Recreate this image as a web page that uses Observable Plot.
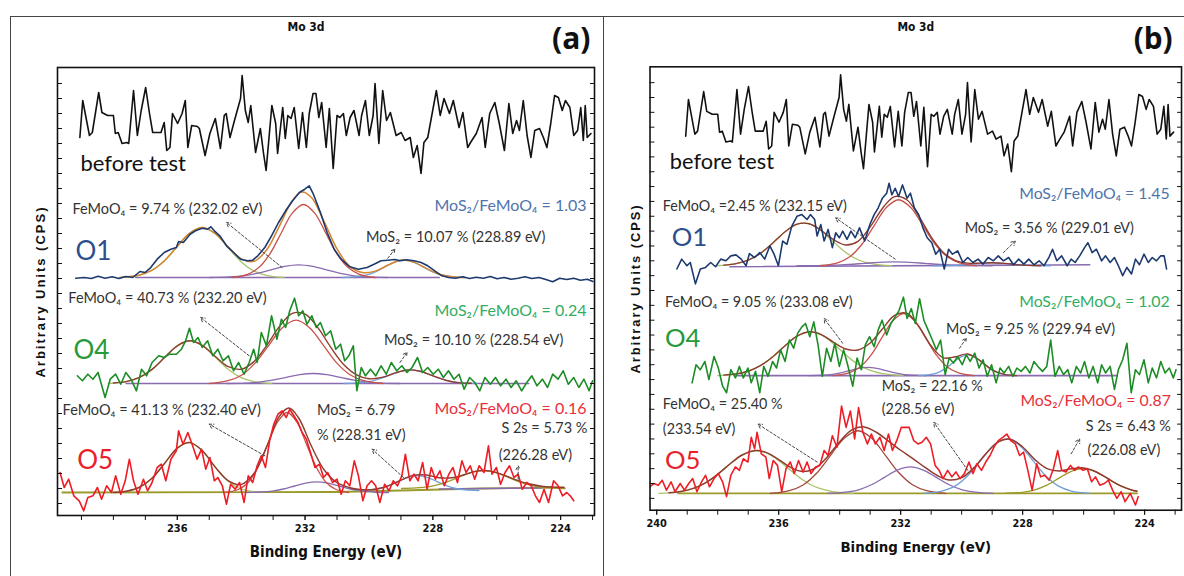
<!DOCTYPE html>
<html><head><meta charset="utf-8">
<script src="https://cdn.jsdelivr.net/npm/d3@7"></script>
<script src="https://cdn.jsdelivr.net/npm/@observablehq/plot@0.6"></script>
<style>
html,body{margin:0;padding:0;background:#fff;width:1184px;height:576px;overflow:hidden;}
#wrap{position:relative;width:1184px;height:576px;overflow:hidden;}
.box{position:absolute;top:16px;height:700px;border:1px solid #444;}
.svgholder{position:absolute;top:0;}
</style></head>
<body><div id="wrap">
<div class="box" style="left:10px;width:592px;"></div>
<div class="box" style="left:603px;width:700px;"></div>
<div class="svgholder" id="pa" style="left:0px;"></div>
<div class="svgholder" id="pb" style="left:603px;"></div>
</div>
<script>
// ---------------- tick values ----------------
const xTickLabels = [240, 236, 232, 228, 224];
const xMinorTicks = [240,239,238,237,236,235,234,233,232,231,230,229,228,227,226,225,224,223];
const yTicks = [12,27,42,57,72,87,102,117,132,147,162,177,192,207,222,237,252,267,282,297,312,327,342,357,372,387,402,417,432];

// ---------------- stacking offsets (arbitrary units) ----------------
const offsetsA = {before: 350, O1: 238, O4: 132, O5: 23};
const offsetsB = {before: 350, O1: 247, O4: 136, O5: 17};

// ---------------- "before test" spectrum (same in both panels) ----------------
const beforeTest = [[239.05,28],[238.96,65],[238.75,30],[238.66,33],[238.46,73],[238.36,53],[238.18,50],[238.0,50],[237.94,32],[237.85,33],[237.73,22],[237.58,23],[237.52,22],[237.37,75],[237.25,30],[237.13,55],[236.99,78],[236.87,52],[236.77,33],[236.51,33],[236.41,43],[236.33,15],[236.23,18],[236.15,52],[235.99,42],[235.85,52],[235.75,65],[235.67,18],[235.55,40],[235.37,39],[235.31,37],[235.13,10],[234.98,32],[234.81,47],[234.65,17],[234.53,50],[234.47,52],[234.35,28],[234.21,45],[234.02,67],[233.97,90],[233.87,55],[233.78,43],[233.7,60],[233.55,13],[233.4,37],[233.3,12],[233.22,-5],[233.04,60],[232.92,42],[232.86,12],[232.7,58],[232.62,27],[232.54,50],[232.44,47],[232.34,58],[232.2,17],[232.08,53],[231.96,18],[231.87,52],[231.75,72],[231.66,72],[231.57,48],[231.48,63],[231.34,18],[231.24,57],[231.12,-3],[231.0,50],[230.91,48],[230.8,52],[230.71,30],[230.59,48],[230.47,55],[230.31,30],[230.23,50],[230.11,65],[229.99,30],[229.87,50],[229.81,82],[229.69,22],[229.57,75],[229.45,45],[229.33,53],[229.15,30],[228.99,33],[228.87,25],[228.71,28],[228.61,8],[228.49,20],[228.37,-8],[228.28,23],[228.16,28],[227.89,75],[227.77,50],[227.65,67],[227.48,52],[227.36,65],[227.18,38],[227.06,53],[226.91,18],[226.82,23],[226.64,32],[226.46,48],[226.36,18],[226.22,52],[226.06,63],[225.92,42],[225.76,15],[225.62,62],[225.5,32],[225.38,45],[225.29,35],[225.17,65],[225.05,30],[224.93,8],[224.81,35],[224.66,37],[224.54,28],[224.43,18],[224.31,42],[224.19,70],[224.07,68],[223.95,55],[223.85,65],[223.71,58],[223.59,30],[223.47,35],[223.37,58],[223.29,25],[223.23,60],[223.17,28],[223.05,32]];

// ---------------- panel (a) measured spectra ----------------
const aO1 = [[239.18,-0.7],[238.91,0],[238.69,-1],[238.48,1.3],[238.26,-0.7],[238.04,0.7],[237.83,-1],[237.61,1],[237.39,0],[237.17,6],[237.01,5],[236.85,9.3],[236.63,18.3],[236.41,25],[236.2,28.3],[236.03,30],[235.96,36],[235.81,35],[235.6,43.3],[235.43,46.7],[235.22,49.3],[235.05,48.3],[234.95,50.7],[234.84,46.7],[234.67,41.7],[234.46,31.7],[234.24,25],[234.02,18.3],[233.8,16.7],[233.64,17.3],[233.48,21.7],[233.26,30],[233.05,41.7],[232.83,55],[232.61,66.7],[232.39,76.7],[232.18,85],[232.01,88.3],[231.87,91.7],[231.74,83.3],[231.52,65],[231.31,45],[231.09,28.3],[230.87,18.3],[230.6,10.7],[230.33,8.3],[230.06,10],[229.84,13.3],[229.62,16.7],[229.41,17.3],[229.19,18],[229.03,16.7],[228.81,17.7],[228.59,16.7],[228.37,15],[228.16,11.7],[227.94,6.7],[227.72,1.7],[227.51,0],[227.29,-0.7],[227.07,0.7],[226.85,-1],[226.64,0.3],[226.42,-0.7],[226.2,1],[225.99,-1.3],[225.77,0],[225.55,-1.7],[225.33,-0.7],[225.12,0.7],[224.9,-1],[224.68,0],[224.46,-2],[224.25,-4.3],[224.03,-0.7],[223.81,-2],[223.59,-0.7],[223.38,-2.7],[223.16,-1.7],[222.99,-4]];
const aO4 = [[239.13,7.7],[238.97,2.7],[238.8,9.3],[238.64,4.3],[238.48,11],[238.26,-14],[238.1,4.3],[237.93,9.3],[237.77,-0.7],[237.61,11],[237.45,4.3],[237.28,-7.3],[237.12,14.3],[236.96,7.7],[236.79,21],[236.58,27.7],[236.41,26],[236.25,29.3],[236.03,29.3],[235.87,34.3],[235.74,42.7],[235.62,55.3],[235.49,41],[235.35,46],[235.22,36],[235.05,42.7],[234.89,27.7],[234.73,34.3],[234.57,22.7],[234.4,27.7],[234.24,12.7],[234.08,21],[233.91,9.3],[233.75,21],[233.61,34.3],[233.5,21],[233.37,51],[233.21,37.7],[233.05,67.7],[232.88,44.3],[232.74,64.3],[232.61,56],[232.48,72.7],[232.33,85.3],[232.2,67.7],[232.07,72.7],[231.94,59.3],[231.79,67.7],[231.65,56],[231.52,61],[231.36,47.7],[231.2,52.7],[231.04,34.3],[230.89,39.3],[230.76,22.7],[230.63,27.7],[230.49,37.7],[230.38,-7.3],[230.24,16],[230.11,7.7],[229.95,14.3],[229.79,7.7],[229.62,17.7],[229.46,9.3],[229.3,21],[229.13,12.7],[228.97,17.7],[228.81,11],[228.65,16],[228.48,26],[228.32,11],[228.16,16],[227.99,9.3],[227.83,14.3],[227.67,6],[227.51,12.7],[227.34,4.3],[227.18,9.3],[227.02,-5.7],[226.85,6],[226.69,1],[226.53,-7.3],[226.37,6],[226.2,-0.7],[226.04,6],[225.88,-2.3],[225.71,4.3],[225.55,-4],[225.39,2.7],[225.22,-7.3],[225.06,1],[224.9,7.7],[224.74,-2.3],[224.57,4.3],[224.41,-4],[224.25,9.3],[224.08,4.3],[223.92,12.7],[223.76,-0.7],[223.59,6],[223.43,-4],[223.27,4.3],[223.11,-7.3],[223.0,2.7]];
const aO5 = [[239.67,20],[239.54,5],[239.4,13.3],[239.24,-3.3],[239.07,-8.3],[238.93,-18.3],[238.8,-5],[238.64,-3.3],[238.5,5],[238.37,-6.7],[238.21,6.7],[238.06,0],[237.93,16.7],[237.77,-1.7],[237.63,11.7],[237.5,33.3],[237.37,11.7],[237.23,-1.7],[237.06,13.3],[236.93,1.7],[236.79,10],[236.63,25],[236.5,28.3],[236.36,11.7],[236.2,33.3],[236.03,41.7],[235.96,61.7],[235.82,48.3],[235.67,60],[235.52,46.7],[235.38,33.3],[235.24,43.3],[235.11,23.3],[234.98,35],[234.84,11.7],[234.73,15],[234.59,6.7],[234.46,-11.7],[234.33,8.3],[234.19,3.3],[234.05,10],[233.91,-10],[233.78,16.7],[233.64,10],[233.5,26.7],[233.37,36.7],[233.24,25],[233.11,51.7],[232.98,68.3],[232.85,78.3],[232.72,81.7],[232.59,75],[232.48,83.3],[232.35,76.7],[232.22,70],[232.09,60],[231.96,53.3],[231.83,40],[231.69,25],[231.55,28.3],[231.42,15],[231.29,20],[231.14,10],[231.0,13.3],[230.87,-1.7],[230.74,11.7],[230.6,6.7],[230.46,31.7],[230.33,16.7],[230.19,-8.3],[230.06,6.7],[229.92,11.7],[229.79,6.7],[229.66,-10],[229.51,8.3],[229.37,1.7],[229.24,11.7],[229.11,6.7],[228.97,16.7],[228.86,38.3],[228.72,11.7],[228.59,18.3],[228.46,11.7],[228.32,30],[228.18,3.3],[228.05,25],[227.92,13.3],[227.78,21.7],[227.64,6.7],[227.5,18.3],[227.37,25],[227.23,10],[227.09,31.7],[226.96,20],[226.83,26.7],[226.69,13.3],[226.55,26.7],[226.4,20],[226.26,46.7],[226.15,18.3],[226.01,25],[225.88,8.3],[225.74,20],[225.6,26.7],[225.46,15],[225.33,18.3],[225.2,3.3],[225.06,10],[224.92,6.7],[224.79,-3.3],[224.66,-10],[224.52,3.3],[224.38,-10],[224.22,11.7],[224.08,6.7],[223.94,-3.3],[223.81,0],[223.7,-3.3],[223.59,-8.3]];

// ---------------- panel (a) fitted components ----------------
const aO1_green = [[237.78,0],[237.22,2.2],[236.82,6.8],[236.42,16.3],[236.02,30.4],[235.62,44.1],[235.22,50],[234.82,44.1],[234.42,30.4],[234.02,16.3],[233.62,6.8],[233.22,2.2],[232.66,0]];
const aO1_red = [[234.29,0],[233.8,3.2],[233.45,9.9],[233.1,23.7],[232.75,44.3],[232.4,64.4],[232.05,73],[231.7,64.4],[231.35,44.3],[231.0,23.7],[230.65,9.9],[230.3,3.2],[229.81,0]];
const aO1_purple = [[234.98,0],[234.38,0.6],[233.94,1.7],[233.51,4.1],[233.07,7.7],[232.64,11.2],[232.2,12.7],[231.77,11.2],[231.33,7.7],[230.9,4.1],[230.46,1.7],[230.03,0.6],[229.42,0]];
const aO1_blue = [[230.82,0],[230.4,0.8],[230.1,2.4],[229.8,5.7],[229.5,10.6],[229.2,15.4],[228.9,17.5],[228.6,15.4],[228.3,10.6],[228.0,5.7],[227.7,2.4],[227.4,0.8],[226.98,0]];
const aO1_env = [[237.8,0],[237.6,0.6],[237.2,2.3],[236.8,7.1],[236.4,16.8],[236.0,31.1],[235.6,44.6],[235.2,50],[234.8,43.7],[234.4,30.4],[234.0,18.6],[233.6,16.2],[233.2,27.7],[232.8,51.7],[232.4,76.8],[232.1,85.4],[231.8,79.9],[231.4,55.7],[231.0,28.6],[230.6,11.1],[230.2,4.9],[229.8,6.4],[229.4,12.5],[229.0,17.3],[228.6,15.4],[228.2,8.9],[227.8,3.3],[227.4,0.8],[227.0,0]];
const aO1_base = [[237.3,0],[227.8,0]];

const aO4_green = [[238.16,0],[237.6,1.9],[237.2,5.8],[236.8,13.9],[236.4,25.9],[236.0,37.7],[235.6,42.7],[235.2,37.7],[234.8,25.9],[234.4,13.9],[234.0,5.8],[233.6,1.9],[233.04,0]];
const aO4_red = [[235.0,0],[234.41,2.8],[233.98,8.5],[233.56,20.6],[233.13,38.4],[232.71,55.8],[232.28,63.3],[231.86,55.8],[231.43,38.4],[231.01,20.6],[230.58,8.5],[230.16,2.8],[229.56,0]];
const aO4_purple = [[234.46,0],[233.87,0.4],[233.44,1.4],[233.02,3.3],[232.59,6.1],[232.17,8.8],[231.74,10],[231.32,8.8],[230.89,6.1],[230.47,3.3],[230.04,1.4],[229.62,0.4],[229.02,0]];
const aO4_blue = [[230.78,0],[230.33,0.6],[230.0,1.8],[229.68,4.5],[229.35,8.3],[229.03,12.1],[228.7,13.7],[228.38,12.1],[228.05,8.3],[227.73,4.5],[227.4,1.8],[227.08,0.6],[226.62,0]];
const aO4_env = [[238.0,0.5],[237.6,1.9],[237.2,5.8],[236.8,13.9],[236.4,25.9],[236.0,37.7],[235.6,42.7],[235.2,37.7],[234.8,26.7],[234.4,16.8],[234.0,14.3],[233.6,21.9],[233.2,38.1],[232.8,57.1],[232.4,70.1],[232.0,69.4],[231.6,55.9],[231.2,36.4],[230.8,19.3],[230.4,8.9],[230.0,4.7],[229.6,6.1],[229.2,10.3],[228.8,13.5],[228.4,12.3],[228.0,7.7],[227.6,3.3],[227.2,0.9],[226.8,0.2]];
const aO4_base = [[237.6,0],[225.0,0]];

const aO5_green = [[237.95,0],[237.45,2.2],[237.09,6.8],[236.73,16.3],[236.37,30.4],[236.01,44.1],[235.65,50],[235.29,44.1],[234.93,30.4],[234.57,16.3],[234.21,6.8],[233.85,2.2],[233.35,0]];
const aO5_red = [[234.48,0],[234.06,3.5],[233.76,10.8],[233.46,26],[233.16,48.6],[232.86,70.6],[232.56,80],[232.26,70.6],[231.96,48.6],[231.66,26],[231.36,10.8],[231.06,3.5],[230.64,0]];
const aO5_purple = [[233.87,0],[233.38,0.5],[233.03,1.4],[232.68,3.5],[232.33,6.5],[231.98,9.4],[231.63,10.7],[231.28,9.4],[230.93,6.5],[230.58,3.5],[230.23,1.4],[229.88,0.5],[229.39,0]];
const aO5_blue = [[230.4,2],[229.98,2.7],[229.68,4],[229.38,6.9],[229.08,11.1],[228.78,15.2],[228.48,17],[228.18,15.2],[227.88,11.1],[227.58,6.9],[227.28,4],[226.98,2.7],[226.56,2]];
const aO5_s2s = [[228.98,4],[228.42,4.8],[228.02,6.4],[227.62,9.9],[227.22,14.9],[226.82,19.9],[226.42,22],[226.02,19.9],[225.62,14.9],[225.22,9.9],[224.82,6.4],[224.42,4.8],[223.86,4]];
const aO5_env = [[238.0,0],[237.6,1.3],[237.2,5],[236.8,13.9],[236.4,29],[236.0,44.4],[235.6,49.9],[235.2,41.2],[234.8,24.9],[234.4,11.7],[234.0,8.1],[233.6,19],[233.2,46.2],[232.8,76.5],[232.5,84.5],[232.2,74.5],[231.8,46.2],[231.4,22.5],[231.0,9.8],[230.6,4.8],[230.2,2.7],[229.8,3.2],[229.4,6.6],[229.0,12.4],[228.6,17.4],[228.2,17.5],[227.8,14.8],[227.4,14.7],[227.0,18],[226.6,21.6],[226.2,21.4],[225.8,17.7],[225.4,12.7],[225.0,8.7],[224.6,6.3],[224.2,5.4],[223.9,5]];
const aO5_base = [[239.6,0],[231.0,0.5],[229.0,2],[226.5,4],[223.9,5]];
const aO5_base2 = [[227.8,3.5],[224.6,4.5]];

// ---------------- panel (b) measured spectra ----------------
const bO1 = [[239.34,-3.3],[239.18,6.7],[239.01,0],[238.9,3.3],[238.73,-18.3],[238.57,-3.3],[238.4,-1.7],[238.23,3.3],[238.07,-1],[237.9,6.7],[237.73,5],[237.57,10],[237.4,11],[237.23,6.7],[237.07,0],[236.96,12.3],[236.79,8.3],[236.62,13.3],[236.46,6.7],[236.29,20],[236.16,12.3],[236.01,0],[235.87,25],[235.73,21.7],[235.57,40],[235.4,50],[235.24,51.7],[235.07,46.7],[234.96,51.7],[234.82,46.7],[234.74,30],[234.62,41.7],[234.51,25],[234.38,36.7],[234.24,18.3],[234.13,33.3],[234.01,28.3],[233.9,35],[233.76,26.7],[233.63,35],[233.49,28.3],[233.35,38.3],[233.18,25],[233.01,41.7],[232.87,51.7],[232.74,58.3],[232.6,68.3],[232.46,73.3],[232.38,83.3],[232.29,71.7],[232.18,78.3],[232.07,70],[231.94,81.7],[231.79,68.3],[231.68,73.3],[231.55,58.3],[231.41,51.7],[231.27,38.3],[231.13,28.3],[230.98,23.3],[230.85,11.7],[230.72,16.7],[230.57,-3.3],[230.43,16.7],[230.3,11.7],[230.13,15],[229.96,3.3],[229.8,8.3],[229.63,3.3],[229.46,6.7],[229.3,1.7],[229.13,8.3],[228.96,5],[228.8,10],[228.63,5],[228.46,8.3],[228.3,1],[228.13,6.7],[227.96,1.7],[227.8,6.7],[227.63,1],[227.46,5],[227.3,0],[227.13,9],[227.02,16.7],[226.88,5],[226.72,10],[226.54,0],[226.41,6.7],[226.28,3.3],[226.13,10],[225.97,18.3],[225.86,23.3],[225.72,13.3],[225.58,16.7],[225.41,5],[225.28,10],[225.13,3.3],[224.99,8.3],[224.86,0],[224.72,-10],[224.58,-1.7],[224.43,-8.3],[224.3,6.7],[224.17,1],[224.02,11.7],[223.88,3.3],[223.75,8.3],[223.61,5],[223.47,10],[223.36,10],[223.28,-3.3]];
const bO4 = [[238.84,-7.3],[238.71,11],[238.57,6],[238.42,14.3],[238.29,-4],[238.12,19.3],[237.98,7.7],[237.84,-10.7],[237.71,-17.3],[237.57,6],[237.42,-2.3],[237.29,9.3],[237.16,-2.3],[237.01,7.7],[236.9,-7.3],[236.76,4.3],[236.62,-17.3],[236.49,9.3],[236.35,-0.7],[236.2,14.3],[236.07,7.7],[235.94,26],[235.79,14.3],[235.65,36],[235.51,27.7],[235.38,42.7],[235.24,49.3],[235.12,52.7],[234.98,39.3],[234.85,54.3],[234.71,31],[234.57,-0.7],[234.43,27.7],[234.29,14.3],[234.16,32.7],[234.01,9.3],[233.87,26],[233.74,11],[233.57,-10.7],[233.43,17.7],[233.29,6],[233.16,31],[233.02,39.3],[232.87,29.3],[232.74,46],[232.61,56],[232.46,41],[232.32,52.7],[232.18,59.3],[232.05,66],[231.91,79.3],[231.79,57.7],[231.65,67.7],[231.52,52.7],[231.38,77.7],[231.24,56],[231.1,46],[230.96,36],[230.83,26],[230.69,36],[230.54,1],[230.41,17.7],[230.27,12.7],[230.13,19.3],[229.98,11],[229.85,21],[229.72,14.3],[229.57,22.7],[229.43,7.7],[229.3,16],[229.16,-0.7],[229.02,11],[228.87,-7.3],[228.74,7.7],[228.61,2.7],[228.46,9.3],[228.32,-0.7],[228.19,7.7],[228.05,4.3],[227.91,9.3],[227.76,2.7],[227.63,14.3],[227.5,9.3],[227.35,4.3],[227.21,9.3],[227.08,36],[226.94,-0.7],[226.8,9.3],[226.66,1],[226.52,6],[226.39,-7.3],[226.24,9.3],[226.1,2.7],[225.97,14.3],[225.83,-2.3],[225.69,9.3],[225.54,-7.3],[225.41,11],[225.28,2.7],[225.13,9.3],[224.99,-14],[224.86,6],[224.72,16],[224.58,32.7],[224.44,-17.3],[224.3,6],[224.17,1],[224.02,16],[223.88,-7.3],[223.75,7.7],[223.61,-2.3],[223.47,14.3],[223.33,2.7],[223.19,7.7],[223.06,-2.3],[222.97,6]];
const bO5 = [[240.23,6.7],[240.09,10],[239.95,8.3],[239.82,13.3],[239.68,3.3],[239.53,11.7],[239.4,1.7],[239.23,10],[239.09,3.3],[238.95,10],[238.82,15],[238.68,1.7],[238.53,11.7],[238.4,18.3],[238.27,6.7],[238.12,15],[237.98,20],[237.84,11.7],[237.71,-3.3],[237.57,18.3],[237.42,26.7],[237.29,23.3],[237.16,35],[237.01,31.7],[236.9,56.7],[236.79,45],[236.71,61.7],[236.57,40],[236.42,36.7],[236.31,15],[236.18,33.3],[236.04,28.3],[235.9,1.7],[235.76,25],[235.62,31.7],[235.49,20],[235.35,33.3],[235.2,21.7],[235.07,31.7],[234.94,20],[234.79,26.7],[234.65,28.3],[234.51,43.3],[234.38,38.3],[234.24,58.3],[234.09,46.7],[233.94,88.3],[233.79,66.7],[233.65,83.3],[233.51,55],[233.38,86.7],[233.24,61.7],[233.09,50],[232.96,60],[232.83,50],[232.68,56.7],[232.54,43.3],[232.4,60],[232.27,43.3],[232.13,53.3],[231.98,66.7],[231.85,66.7],[231.72,66.7],[231.57,53.3],[231.43,50],[231.3,51.7],[231.16,56.7],[231.02,50],[230.87,28.3],[230.74,23.3],[230.61,15],[230.46,23.3],[230.32,16.7],[230.19,21.7],[230.05,15],[229.91,20],[229.76,31.7],[229.63,20],[229.5,30],[229.35,23.3],[229.21,31.7],[229.07,38.3],[228.94,46.7],[228.8,53.3],[228.65,56.7],[228.52,60],[228.39,53.3],[228.24,50],[228.1,38.3],[227.97,41.7],[227.83,23.3],[227.69,3.3],[227.54,30],[227.41,16.7],[227.28,18.3],[227.13,13.3],[226.99,25],[226.85,43.3],[226.72,23.3],[226.58,21.7],[226.43,28.3],[226.3,23.3],[226.17,26.7],[226.02,23.3],[225.88,25],[225.74,11.7],[225.61,16.7],[225.47,8.3],[225.32,10],[225.19,13.3],[225.05,3.3],[224.91,-5],[224.77,1.7],[224.64,-8.3],[224.47,0],[224.3,-11.7],[224.21,-3.3]];

// ---------------- panel (b) fitted components ----------------
const bO1_green = [[238.06,0],[237.43,1.9],[236.98,5.8],[236.53,14.1],[236.08,26.3],[235.63,38.2],[235.18,43.3],[234.73,38.2],[234.28,26.3],[233.83,14.1],[233.38,5.8],[232.93,1.9],[232.3,0]];
const bO1_red = [[234.63,0],[234.07,2.9],[233.67,9],[233.27,21.7],[232.87,40.5],[232.47,58.8],[232.07,66.7],[231.67,58.8],[231.27,40.5],[230.87,21.7],[230.47,9],[230.07,2.9],[229.51,0]];
const bO1_purple = [[235.4,0],[234.7,0.2],[234.2,0.5],[233.7,1.3],[233.2,2.4],[232.7,3.5],[232.2,4],[231.7,3.5],[231.2,2.4],[230.7,1.3],[230.2,0.5],[229.7,0.2],[229.0,0]];
const bO1_blue = [[230.92,0],[230.5,0.1],[230.2,0.4],[229.9,1],[229.6,1.8],[229.3,2.6],[229.0,3],[228.7,2.6],[228.4,1.8],[228.1,1],[227.8,0.4],[227.5,0.1],[227.08,0]];
const bO1_env = [[237.8,0.6],[237.4,2.1],[237.0,5.6],[236.6,12.5],[236.2,22.8],[235.8,34.1],[235.4,42],[235.0,42.4],[234.6,35.6],[234.2,26.3],[233.8,21],[233.4,24.7],[233.0,39.2],[232.6,57.9],[232.2,69.9],[231.8,66.7],[231.4,49.9],[231.0,29.1],[230.6,13.5],[230.2,5.2],[229.8,2.6],[229.4,2.6],[229.0,3],[228.6,2.4],[228.2,1.2],[227.8,0.4],[227.4,0]];
const bO1_base = [[237.6,-1],[225.8,1]];

const bO4_green = [[238.0,0],[237.33,1.9],[236.86,6],[236.39,14.4],[235.91,26.9],[235.44,39.1],[234.96,44.3],[234.49,39.1],[234.01,26.9],[233.54,14.4],[233.06,6],[232.59,1.9],[231.92,0]];
const bO4_red = [[234.2,0],[233.7,2.8],[233.34,8.5],[232.98,20.4],[232.62,38.1],[232.26,55.3],[231.9,62.7],[231.54,55.3],[231.18,38.1],[230.82,20.4],[230.46,8.5],[230.1,2.8],[229.6,0]];
const bO4_purple = [[235.0,0],[234.58,0.4],[234.28,1.1],[233.98,2.7],[233.68,5],[233.38,7.3],[233.08,8.3],[232.78,7.3],[232.48,5],[232.18,2.7],[231.88,1.1],[231.58,0.4],[231.16,0]];
const bO4_blue = [[231.4,0],[231.05,0.9],[230.8,2.8],[230.55,6.8],[230.3,12.7],[230.05,18.5],[229.8,21],[229.55,18.5],[229.3,12.7],[229.05,6.8],[228.8,2.8],[228.55,0.9],[228.2,0]];
const bO4_env = [[237.8,0.5],[237.4,1.6],[237.0,4.4],[236.6,10],[236.2,18.8],[235.8,30],[235.4,39.8],[235.0,44.3],[234.6,41.5],[234.2,33.7],[233.8,26.9],[233.4,25.9],[233.0,33],[232.6,47.1],[232.2,60.9],[231.8,63],[231.4,49.4],[231.0,29.9],[230.6,18],[230.2,19.1],[229.8,21.9],[229.4,15.2],[229.0,5.8],[228.6,1.2],[228.2,0]];
const bO4_base = [[237.4,0],[224.9,0]];

const bO5_green = [[239.93,0],[239.23,1.9],[238.73,5.8],[238.23,14.1],[237.73,26.3],[237.23,38.2],[236.73,43.3],[236.23,38.2],[235.73,26.3],[235.23,14.1],[234.73,5.8],[234.23,1.9],[233.53,0]];
const bO5_brown = [[236.28,0],[235.65,2.8],[235.2,8.5],[234.75,20.6],[234.3,38.4],[233.85,55.8],[233.4,63.3],[232.95,55.8],[232.5,38.4],[232.05,20.6],[231.6,8.5],[231.15,2.8],[230.52,0]];
const bO5_purple = [[234.4,0],[233.81,1.2],[233.38,3.6],[232.96,8.7],[232.53,16.2],[232.11,23.5],[231.68,26.7],[231.26,23.5],[230.83,16.2],[230.41,8.7],[229.98,3.6],[229.56,1.2],[228.96,0]];
const bO5_blue = [[231.24,0],[230.65,2.4],[230.22,7.4],[229.8,17.9],[229.37,33.4],[228.95,48.5],[228.52,55],[228.1,48.5],[227.67,33.4],[227.25,17.9],[226.82,7.4],[226.4,2.4],[225.8,0]];
const bO5_s2s = [[228.58,0],[228.02,1.1],[227.62,3.4],[227.22,8.1],[226.82,15.2],[226.42,22.1],[226.02,25],[225.62,22.1],[225.22,15.2],[224.82,8.1],[224.42,3.4],[224.25,1.8]];
const bO5_env = [[239.6,0.7],[239.2,2],[238.8,5.1],[238.4,10.7],[238.0,19.3],[237.6,29.7],[237.2,38.8],[236.8,43.2],[236.4,41.2],[236.0,34.2],[235.6,26.1],[235.2,22],[234.8,25.5],[234.4,37.1],[234.0,52.2],[233.6,64.2],[233.2,67.2],[232.8,61.8],[232.4,52.8],[232.0,43.6],[231.6,35.2],[231.2,26.2],[230.8,18.1],[230.4,13.5],[230.0,15.9],[229.6,25.8],[229.2,40.2],[228.8,52.1],[228.4,54.8],[228.0,46.9],[227.6,34.1],[227.2,25],[226.8,22.7],[226.4,24.8],[226.0,25.7],[225.6,21.9],[225.2,14.8],[224.8,7.8],[224.4,3.2],[224.25,2.5]];
const bO5_base = [[239.3,0],[224.25,0]];

// ---------------- annotations: [energy, intensity, text] ----------------
const notesA = [
  [239.28, 306, "FeMoO₄ = 9.74 % (232.02 eV)"],
  [230.09, 278, "MoS₂ = 10.07 % (228.89 eV)"],
  [239.41, 217, "FeMoO₄ = 40.73 % (232.20 eV)"],
  [229.53, 175, "MoS₂ = 10.10 % (228.54 eV)"],
  [239.59, 105, "FeMoO₄ = 41.13 % (232.40 eV)"],
  [231.63, 105, "MoS₂ = 6.79"],
  [231.63, 80, "% (228.31 eV)"],
  [225.94, 60, "(226.28 eV)"]
];
const notesAEnd = [[223.16, 87, "S 2s = 5.73 %"]];
const ratiosA = [[223.19, 310, "MoS₂/FeMoO₄ = 1.03"], [223.19, 205, "MoS₂/FeMoO₄ = 0.24"], [223.19, 107, "MoS₂/FeMoO₄ = 0.16"]];
const samplesA = [[239.19, 264, "O1"], [239.25, 165, "O4"], [239.13, 55, "O5"]];
const beforeLabelA = [[239.03, 352, "before test"]];

const notesB = [
  [239.8, 307, "FeMoO₄ =2.45 % (232.15 eV)"],
  [229.9, 285, "MoS₂ = 3.56 % (229.01 eV)"],
  [239.73, 210, "FeMoO₄ = 9.05 % (233.08 eV)"],
  [230.51, 183, "MoS₂ = 9.25 % (229.94 eV)"],
  [232.62, 125, "MoS₂ = 22.16 %"],
  [232.62, 102, "(228.56 eV)"],
  [239.8, 107, "FeMoO₄ = 25.40 %"],
  [239.8, 82, "(233.54 eV)"],
  [225.87, 60, "(226.08 eV)"]
];
const notesBEnd = [[223.14, 85, "S 2s = 6.43 %"]];
const ratiosB = [[223.18, 320, "MoS₂/FeMoO₄ = 1.45"], [223.18, 210, "MoS₂/FeMoO₄ = 1.02"], [223.14, 110, "MoS₂/FeMoO₄ = 0.87"]];
const samplesB = [[239.51, 275, "O1"], [239.73, 173, "O4"], [239.73, 50, "O5"]];
const beforeLabelB = [[239.57, 352, "before test"]];

// arrows: [x1, y1, x2, y2] (tail -> head)
const arrowsA = [[232.72,248,234.46,293],[229.41,257.3,229.19,266.3],[233.75,159.7,235.27,198],[229.03,153,228.81,163],[233.26,59.7,235.0,91.3],[228.92,38,229.9,66.3],[225.33,36.3,225.33,49.7]];
const arrowsB = [[232.18,253.7,234.13,295.3],[228.63,260.3,228.24,272],[233.9,168.7,234.51,193.7],[230.07,163.7,229.85,173.7],[234.74,48.7,236.68,87],[229.8,40.3,230.91,88.7],[226.41,57,226.13,72]];

// ---------------- styling ----------------
const C = {
  navy: "#1d3a6e", green: "#1c8c25", red: "#ee1c24",
  o1: "#2c4f8c", o4: "#27993a", o5: "#e8212a",
  r1: "#4f74ab", r4: "#33ad62", r5: "#e8313b",
  cGreen: "#a9c46a", cRed: "#c8524b", cPurple: "#8a6bb0", cBlue: "#6e9fd8", cOlive: "#9b9a2a",
  envOrange: "#d4852f", envBrown: "#8e3b2e", note: "#333333"
};
const NOTE_FONT = "Lato, 'Open Sans', sans-serif";
const NARROW = "'Liberation Sans Narrow', 'DejaVu Sans Condensed', 'Liberation Sans', sans-serif";

function line(data, off, stroke, sw, curve) {
  return Plot.line(data, {x: d => d[0], y: d => d[1] + off, stroke, strokeWidth: sw, curve: curve || "linear", clip: true});
}

function drawPanel(p) {
  const [x0, x1] = p.xDomain;
  const inDom = v => v <= x0 + 1e-9 && v >= x1;
  const marks = [];
  for (const c of p.comps) marks.push(line(c[0], c[1], c[2], c[3] || 1.3, c[4] || "catmull-rom"));
  for (const s of p.spectra) marks.push(line(s[0], s[1], s[2], 1.6, "linear"));
  marks.push(Plot.arrow(p.arrows, {x1: d => d[0], y1: d => d[1], x2: d => d[2], y2: d => d[3], stroke: "#444", strokeWidth: 1, strokeDasharray: "2.5,2", headLength: 7}));
  const txt = (arr, opts) => Plot.text(arr, {x: d => d[0], y: d => d[1], text: d => d[2], ...opts});
  marks.push(txt(p.notes, {textAnchor: "start", fill: C.note, fontSize: 14.5, fontFamily: NOTE_FONT}));
  marks.push(txt(p.notesEnd, {textAnchor: "end", fill: C.note, fontSize: 14.5, fontFamily: NOTE_FONT}));
  marks.push(txt(p.ratios, {textAnchor: "end", fill: (d, i) => p.ratioColors[i], fontSize: 16, fontFamily: NOTE_FONT}));
  marks.push(txt(p.samples, {textAnchor: "start", fill: (d, i) => p.sampleColors[i], fontSize: 26, fontFamily: NOTE_FONT}));
  marks.push(txt(p.before, {textAnchor: "start", fill: "#111", fontSize: 22, fontFamily: NOTE_FONT}));
  marks.push(Plot.frame({stroke: "#111", strokeWidth: 1.6}));
  marks.push(Plot.axisX(xMinorTicks.filter(inDom), {tickSize: 5, tickFormat: () => "", stroke: "#111", label: null}));
  marks.push(Plot.axisX(xTickLabels.filter(inDom), {tickSize: 5, tickPadding: 4, tickFormat: d => String(d), fontSize: 11, fontWeight: 600, fontFamily: NARROW, fill: "#111", stroke: "#111", label: null}));
  marks.push(Plot.axisY(yTicks, {anchor: "left", tickSize: 5, dx: 5, tickFormat: () => "", stroke: "#111", label: null}));
  marks.push(Plot.axisY(yTicks, {anchor: "right", tickSize: 5, dx: -5, tickFormat: () => "", stroke: "#111", label: null}));
  marks.push(Plot.text(["Mo 3d"], {frameAnchor: "top", text: d => d, dx: p.titleDx, dy: -40, lineAnchor: "middle", fontSize: 12, fontWeight: "bold", fontFamily: NARROW, fill: "#111"}));
  marks.push(Plot.text([p.tag], {frameAnchor: "top-right", text: d => d, dx: p.tagDx, dy: -28, lineAnchor: "middle", fontSize: 30, fontWeight: "bold", fontFamily: "'Open Sans', Lato, sans-serif", fill: "#111"}));
  marks.push(Plot.text(["Binding Energy (eV)"], {frameAnchor: "bottom", text: d => d, dy: 37, lineAnchor: "middle", fontSize: 15, fontWeight: "bold", fontFamily: NARROW, fill: "#111"}));
  marks.push(Plot.text(["Arbitrary Units (CPS)"], {frameAnchor: "left", text: d => d, rotate: -90, textAnchor: "middle", lineAnchor: "middle", dx: p.ylabDx, fontSize: 13, fontWeight: "bold", fontFamily: "'Liberation Sans', Arial, sans-serif", fill: "#111"}));
  const svg = Plot.plot({
    width: p.width, height: 576,
    marginLeft: p.marginLeft, marginRight: p.marginRight, marginTop: 67, marginBottom: 61,
    x: {domain: p.xDomain, label: null},
    y: {domain: [0, 448], label: null},
    style: {background: "transparent", overflow: "visible"},
    marks
  });
  svg.querySelectorAll("text").forEach(t => {
    if (t.textContent === "Arbitrary Units (CPS)") t.setAttribute("letter-spacing", "2px");
  });
  return svg;
}

const A = offsetsA, B = offsetsB;
const svgA = drawPanel({
  xDomain: [239.75, 222.94], width: 603, marginLeft: 57, marginRight: 9,
  tag: "(a)", tagDx: -4, ylabDx: -17, titleDx: -20,
  spectra: [[beforeTest, A.before, "#111"], [aO1, A.O1, C.navy], [aO4, A.O4, C.green], [aO5, A.O5, C.red]],
  comps: [
    [aO1_base, A.O1, C.cPurple, 1.6, "linear"], [aO1_green, A.O1, C.cGreen], [aO1_purple, A.O1, C.cPurple], [aO1_blue, A.O1, C.cBlue], [aO1_red, A.O1, C.cRed], [aO1_env, A.O1, C.envOrange, 1.5],
    [aO4_base, A.O4, C.cPurple, 1.6, "linear"], [aO4_green, A.O4, C.cGreen], [aO4_purple, A.O4, C.cPurple], [aO4_blue, A.O4, C.cBlue], [aO4_red, A.O4, C.cRed], [aO4_env, A.O4, C.envBrown, 1.4],
    [aO5_base, A.O5, C.cOlive, 1.8, "linear"], [aO5_base2, A.O5, C.cPurple, 1.5, "linear"], [aO5_green, A.O5, C.cGreen], [aO5_purple, A.O5, C.cPurple], [aO5_blue, A.O5, C.cBlue], [aO5_s2s, A.O5, C.cOlive], [aO5_red, A.O5, C.cRed], [aO5_env, A.O5, C.envBrown, 1.4]
  ],
  arrows: arrowsA, notes: notesA, notesEnd: notesAEnd, ratios: ratiosA, ratioColors: [C.r1, C.r4, C.r5],
  samples: samplesA, sampleColors: [C.o1, C.o4, C.o5], before: beforeLabelA
});
const svgB = drawPanel({
  xDomain: [240.22, 222.79], width: 587, marginLeft: 47, marginRight: 3,
  tag: "(b)", tagDx: -9, ylabDx: -14, titleDx: 0,
  spectra: [[beforeTest, B.before, "#111"], [bO1, B.O1, C.navy], [bO4, B.O4, C.green], [bO5, B.O5, C.red]],
  comps: [
    [bO1_base, B.O1, C.cPurple, 1.6, "linear"], [bO1_green, B.O1, C.cGreen], [bO1_purple, B.O1, C.cPurple], [bO1_blue, B.O1, C.cBlue], [bO1_red, B.O1, C.cRed], [bO1_env, B.O1, C.envBrown, 1.4],
    [bO4_base, B.O4, C.cPurple, 1.6, "linear"], [bO4_green, B.O4, C.cGreen], [bO4_purple, B.O4, C.cPurple], [bO4_blue, B.O4, C.cBlue], [bO4_red, B.O4, C.cRed], [bO4_env, B.O4, C.envBrown, 1.4],
    [bO5_base, B.O5, C.cOlive, 1.8, "linear"], [bO5_green, B.O5, C.cGreen], [bO5_brown, B.O5, "#a5473b"], [bO5_purple, B.O5, C.cPurple], [bO5_blue, B.O5, C.cBlue], [bO5_s2s, B.O5, C.cOlive], [bO5_env, B.O5, C.envBrown, 1.5]
  ],
  arrows: arrowsB, notes: notesB, notesEnd: notesBEnd, ratios: ratiosB, ratioColors: [C.r1, C.r4, C.r5],
  samples: samplesB, sampleColors: [C.o1, C.o4, C.o5], before: beforeLabelB
});
document.getElementById("pa").appendChild(svgA);
document.getElementById("pb").appendChild(svgB);
</script>
</body></html>
